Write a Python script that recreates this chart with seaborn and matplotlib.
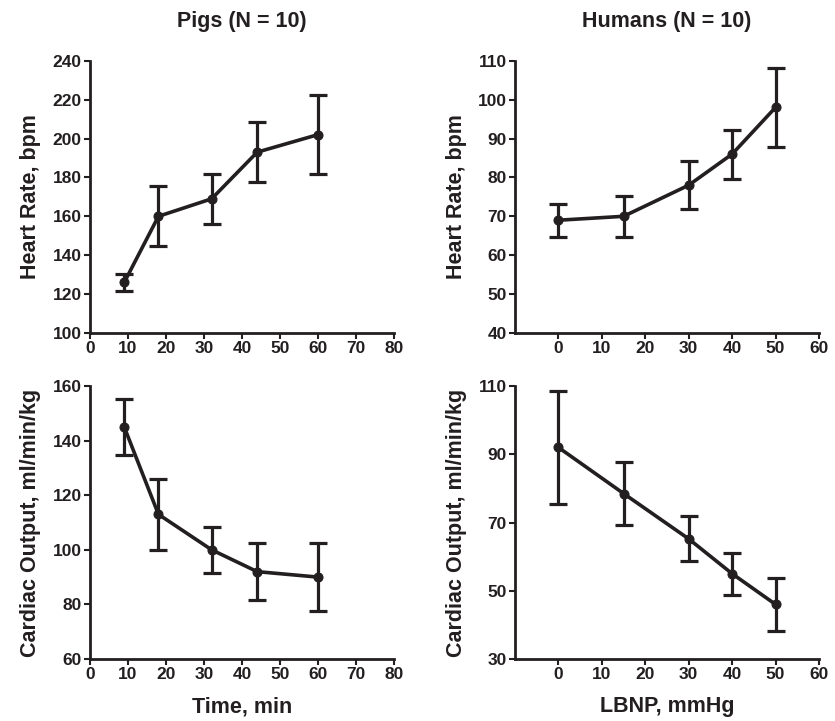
import matplotlib
matplotlib.use("Agg")
import matplotlib.pyplot as plt
import seaborn as sns
import pandas as pd

# pigs: time (min)
pig_time = [9, 18, 32, 44, 60]
pig_hr = [126, 160, 169, 193, 202]
pig_hr_err = [4.5, 15.5, 12.7, 15.4, 20.2]
pig_co = [145, 113, 100, 92, 90]
pig_co_err = [10.4, 13, 8.4, 10.5, 12.5]

# humans: LBNP (mmHg)
hum_lbnp = [0, 15, 30, 40, 50]
hum_hr = [69, 70, 78, 86, 98]
hum_hr_err = [4.2, 5.3, 6.2, 6.3, 10.2]
hum_co = [92, 78.5, 65.2, 55, 46]
hum_co_err = [16.6, 9.1, 6.6, 6.2, 7.8]

sns.set_style("ticks")
plt.rcParams["font.family"] = ["Liberation Sans", "DejaVu Sans"]
plt.rcParams["font.weight"] = "bold"
INK = "#231f20"

fig = plt.figure(figsize=(8.35, 7.21), dpi=100)
ax_ph = fig.add_axes([0.1078, 0.5381, 0.3641, 0.3777])
ax_hh = fig.add_axes([0.6168, 0.5381, 0.3640, 0.3777])
ax_pc = fig.add_axes([0.1078, 0.0860, 0.3641, 0.3786])
ax_hc = fig.add_axes([0.6168, 0.0860, 0.3640, 0.3786])


def draw(ax, x, y, err, xlim, xticks, ylim, yticks, ylabel):
    df = pd.DataFrame({"x": x, "y": y})
    ax.errorbar(x, y, yerr=err, fmt="none", ecolor=INK, elinewidth=2.3,
                capsize=6.5, capthick=2.3, zorder=2)
    sns.lineplot(data=df, x="x", y="y", ax=ax, color=INK, linewidth=2.6,
                 marker="o", markersize=6.5, markeredgecolor=INK, zorder=3)
    ax.set_xlim(*xlim)
    ax.set_ylim(*ylim)
    ax.set_xticks(xticks)
    ax.set_yticks(yticks)
    ax.set_xlabel("")
    ax.set_ylabel(ylabel, fontsize=15.5, fontweight="bold", color=INK, labelpad=8)
    sns.despine(ax=ax)
    for s in ["left", "bottom"]:
        ax.spines[s].set_linewidth(2)
        ax.spines[s].set_color(INK)
    ax.tick_params(axis="both", labelsize=12.5, colors=INK, width=1.5,
                   length=4, direction="out", pad=2)
    for t in ax.get_xticklabels() + ax.get_yticklabels():
        t.set_fontweight("bold")


draw(ax_ph, pig_time, pig_hr, pig_hr_err, (0, 80), range(0, 81, 10),
     (100, 240), range(100, 241, 20), "Heart Rate, bpm")
draw(ax_pc, pig_time, pig_co, pig_co_err, (0, 80), range(0, 81, 10),
     (60, 160), range(60, 161, 20), "Cardiac Output, ml/min/kg")
draw(ax_hh, hum_lbnp, hum_hr, hum_hr_err, (-10, 60), range(0, 61, 10),
     (40, 110), range(40, 111, 10), "Heart Rate, bpm")
draw(ax_hc, hum_lbnp, hum_co, hum_co_err, (-10, 60), range(0, 61, 10),
     (30, 110), range(30, 111, 20), "Cardiac Output, ml/min/kg")

ax_ph.set_title("Pigs (N = 10)", fontsize=15.5, fontweight="bold", color=INK, pad=24)
ax_hh.set_title("Humans (N = 10)", fontsize=15.5, fontweight="bold", color=INK, pad=24)
ax_pc.set_xlabel("Time, min", fontsize=15.5, fontweight="bold", color=INK, labelpad=10)
ax_hc.set_xlabel("LBNP, mmHg", fontsize=15.5, fontweight="bold", color=INK, labelpad=10)

fig.savefig("out.png", dpi=100)
